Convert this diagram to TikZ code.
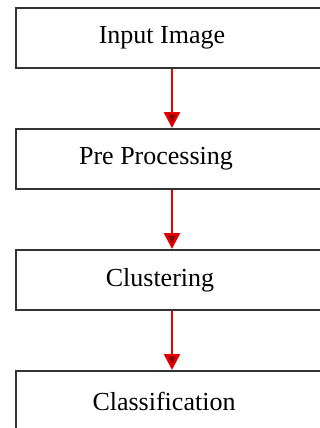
\documentclass[tikz,border=0pt]{standalone}
\usepackage{fontspec}
\setmainfont{Liberation Serif}
\usetikzlibrary{positioning,arrows.meta}
\tikzset{
stage/.style={
	  draw=black!80, line width=1pt, rectangle,
	    minimum width=156pt, minimum height=30pt, inner sep=0pt},
flow/.style={
	  draw=red!90!black, line width=1.3pt,
	    -{Triangle[length=8pt,width=8pt,fill=red!55!black]}}
}
\newcommand{\stagefont}{\fontsize{13}{15}\selectfont}

\begin{document}
\begin{tikzpicture}[x=0.5pt, y=-0.5pt, node distance=29.5pt, font=\stagefont]
	\useasboundingbox (0,0) rectangle (320,428);
	\node[stage, label={[xshift=-5pt]center:Input Image}] (input) at (172,38) {};
	\node[stage, below=of input, label={[xshift=-8pt]center:Pre Processing}] (prep) {};
	\node[stage, below=of prep, label={[xshift=-6pt]center:Clustering}] (clust) {};
	\node[stage, below=of clust, label={[xshift=-4pt]center:Classification}] (classif) {};
	\draw[flow] (input) -- (prep);
	\draw[flow] (prep) -- (clust);
	\draw[flow] (clust) -- (classif);
\end{tikzpicture}
\end{document}
